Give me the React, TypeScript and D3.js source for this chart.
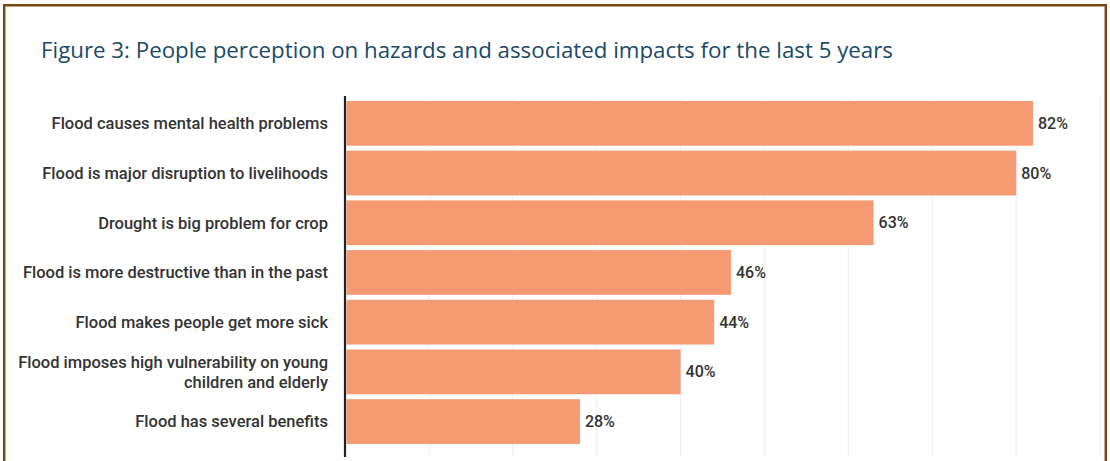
import { useEffect, useRef } from "react";
import * as d3 from "d3";

// perception statements, top to bottom (label lines split on "\n")
const categories = [
  "Flood causes mental health problems",
  "Flood is major disruption to livelihoods",
  "Drought is big problem for crop",
  "Flood is more destructive than in the past",
  "Flood makes people get more sick",
  "Flood imposes high vulnerability on young\nchildren and elderly",
  "Flood has several benefits",
];
const values = [82, 80, 63, 46, 44, 40, 28];
const gridTicks = [10, 20, 30, 40, 50, 60, 70, 80, 90];

const TITLE = "Figure 3: People perception on hazards and associated impacts for the last 5 years";

const W = 1110;
const H = 461;

export default function App() {
  const svgRef = useRef<SVGSVGElement>(null);

  useEffect(() => {
    if (!svgRef.current) return;
    const svg = d3.select(svgRef.current);
    svg.selectAll("*").remove();

    const x = d3.scaleLinear().domain([0, 100]).range([345, 345 + 839]);
    const y = d3.scaleBand<string>()
      .domain(categories)
      .range([98.5, 446.4])
      .paddingInner(0.1)
      .paddingOuter(0.05);

    svg.append("rect").attr("width", W).attr("height", H).attr("fill", "#fff");

    svg.append("clipPath").attr("id", "frame")
      .append("rect").attr("x", 5).attr("y", 6).attr("width", 1099).attr("height", H);

    const g = svg.append("g").attr("clip-path", "url(#frame)");

    // gridlines
    g.selectAll("line.grid")
      .data(gridTicks)
      .join("line")
      .attr("class", "grid")
      .attr("x1", (d) => x(d)).attr("x2", (d) => x(d))
      .attr("y1", 97).attr("y2", 457)
      .attr("stroke", "#f0f0f0").attr("stroke-width", 1.2);

    // bars
    g.selectAll("rect.bar")
      .data(values)
      .join("rect")
      .attr("class", "bar")
      .attr("x", x(0) + 1.5)
      .attr("y", (_, i) => y(categories[i])!)
      .attr("width", (d) => x(d) - x(0) - 1.5)
      .attr("height", y.bandwidth())
      .attr("fill", "#f59a72");

    // value labels
    g.selectAll("text.val")
      .data(values)
      .join("text")
      .attr("class", "val")
      .attr("x", (d) => x(d) + 5)
      .attr("y", (_, i) => y(categories[i])! + y.bandwidth() / 2)
      .attr("dy", "0.35em")
      .attr("fill", "#333")
      .attr("font-family", "Roboto, sans-serif")
      .attr("font-weight", 500)
      .attr("font-size", 16)
      .text((d) => `${d}%`);

    // category labels
    categories.forEach((c) => {
      const lines = c.split("\n");
      const cy = y(c)! + y.bandwidth() / 2;
      const t = g.append("text")
        .attr("x", 328)
        .attr("text-anchor", "end")
        .attr("fill", "#333")
        .attr("font-family", "Roboto, sans-serif")
        .attr("font-weight", 500)
        .attr("font-size", 16.5);
      lines.forEach((ln, j) => {
        t.append("tspan")
          .attr("x", 328)
          .attr("y", cy + (j - (lines.length - 1) / 2) * 20)
          .attr("dy", "0.35em")
          .text(ln);
      });
    });

    // axis line
    g.append("line")
      .attr("x1", x(0)).attr("x2", x(0))
      .attr("y1", 96).attr("y2", 457)
      .attr("stroke", "#222").attr("stroke-width", 2.2);

    // title
    svg.append("text")
      .attr("x", 41).attr("y", 58)
      .attr("fill", "#1b4a68")
      .attr("font-family", "'Open Sans', sans-serif")
      .attr("font-size", 22)
      .attr("textLength", 852)
      .attr("lengthAdjust", "spacingAndGlyphs")
      .text(TITLE);

    // frame
    svg.append("path")
      .attr("d", `M4.2,${H + 2} V5.2 H1105.8 V${H + 2}`)
      .attr("fill", "none")
      .attr("stroke", "#7a4814")
      .attr("stroke-width", 2.5);
  }, []);

  return (
    <svg
      ref={svgRef}
      width={W}
      height={H}
      style={{ position: "absolute", left: 0, top: 0 }}
    />
  );
}
